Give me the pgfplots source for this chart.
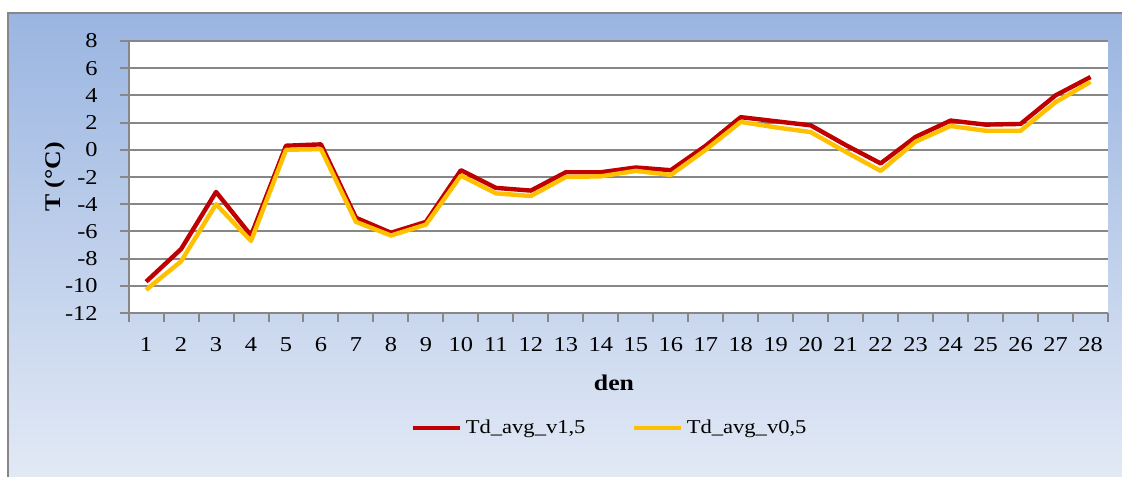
\documentclass[border=0pt]{standalone}
\usepackage{fontspec}
\setmainfont{Liberation Serif}[FakeStretch=1.15]
\usepackage{pgfplots}
\pgfplotsset{compat=1.18}
\definecolor{bgtop}{HTML}{9AB5E1}
\definecolor{bgbot}{HTML}{E2E9F5}
\definecolor{gridgray}{HTML}{878787}
\definecolor{redline}{HTML}{C00000}
\definecolor{yelline}{HTML}{FFC000}
\pgfplotstableread{
x y
1 -9.7
2 -7.3
3 -3.1
4 -6.3
5 0.3
6 0.4
7 -5.0
8 -6.1
9 -5.3
10 -1.5
11 -2.8
12 -3.0
13 -1.65
14 -1.65
15 -1.3
16 -1.5
17 0.3
18 2.4
19 2.1
20 1.8
21 0.35
22 -1.0
23 0.95
24 2.15
25 1.85
26 1.9
27 4.0
28 5.35
}\tablered
\pgfplotstableread{
x y
1 -10.3
2 -8.2
3 -4.0
4 -6.7
5 0.0
6 0.05
7 -5.3
8 -6.3
9 -5.5
10 -1.9
11 -3.2
12 -3.4
13 -2.0
14 -1.95
15 -1.55
16 -1.85
17 0.0
18 2.05
19 1.65
20 1.3
21 -0.15
22 -1.55
23 0.6
24 1.75
25 1.4
26 1.4
27 3.5
28 5.0
}\tableyel
\begin{document}
\begin{tikzpicture}
\useasboundingbox (0pt,0pt) rectangle (561pt,238pt);
\shade[top color=bgtop, bottom color=bgbot] (4pt,0pt) rectangle (561pt,231.5pt);
\draw[gridgray, line width=1.3pt] (4pt,-3pt) -- (4pt,231.5pt) -- (565pt,231.5pt);
\begin{axis}[
  at={(64.3pt,81.5pt)}, anchor=south west,
  scale only axis, width=489.7pt, height=136pt,
  xmin=0.5, xmax=28.5, ymin=-12, ymax=8,
  ytick={-12,-10,...,8},
  xtick={0.5,1.5,...,28.5}, xticklabels={},
  extra x ticks={1,...,28},
  extra x tick style={major tick length=0pt, tick style={draw=none}, grid=none},
  axis x line*=bottom, axis y line*=left,
  axis line style={draw=gridgray, line width=1pt, -},
  tick style={draw=gridgray, line width=1pt},
  tick align=outside,
  major tick length=4.5pt,
  ymajorgrids, grid style={draw=gridgray, line width=1pt},
  axis background/.style={fill=white},
  /pgf/number format/assume math mode=true,
  ticklabel style={font=\fontsize{10.6}{11}\selectfont},
  yticklabel style={anchor=east, inner sep=0pt, xshift=-10.8pt},
  xticklabel style={anchor=north, inner sep=0pt, yshift=-12.2pt},
  xlabel={\bfseries den},
  xlabel style={at={(axis description cs:0.4956,-0.257)}, anchor=center, font=\fontsize{11.2}{12}\selectfont},
  ylabel={\bfseries T (°C)},
  ylabel style={at={(axis description cs:-0.0752,0.5)}, anchor=center, font=\fontsize{11.2}{12}\selectfont},
  legend style={at={(axis description cs:0.492,-0.4228)}, anchor=center, draw=none, fill=none,
    legend columns=2, font=\fontsize{9.8}{10}\selectfont,
    /tikz/every even column/.append style={column sep=21pt}},
  legend image code/.code={\draw[#1] (0pt,0pt) -- (23.5pt,0pt);},
]
\addplot[redline, line width=2.2pt, line join=round] table[x=x,y=y] {\tablered};
\addlegendentry{Td\_avg\_v1,5}
\addplot[yelline, line width=2.2pt, line join=round] table[x=x,y=y] {\tableyel};
\addlegendentry{Td\_avg\_v0,5}
\end{axis}
\end{tikzpicture}
\end{document}
